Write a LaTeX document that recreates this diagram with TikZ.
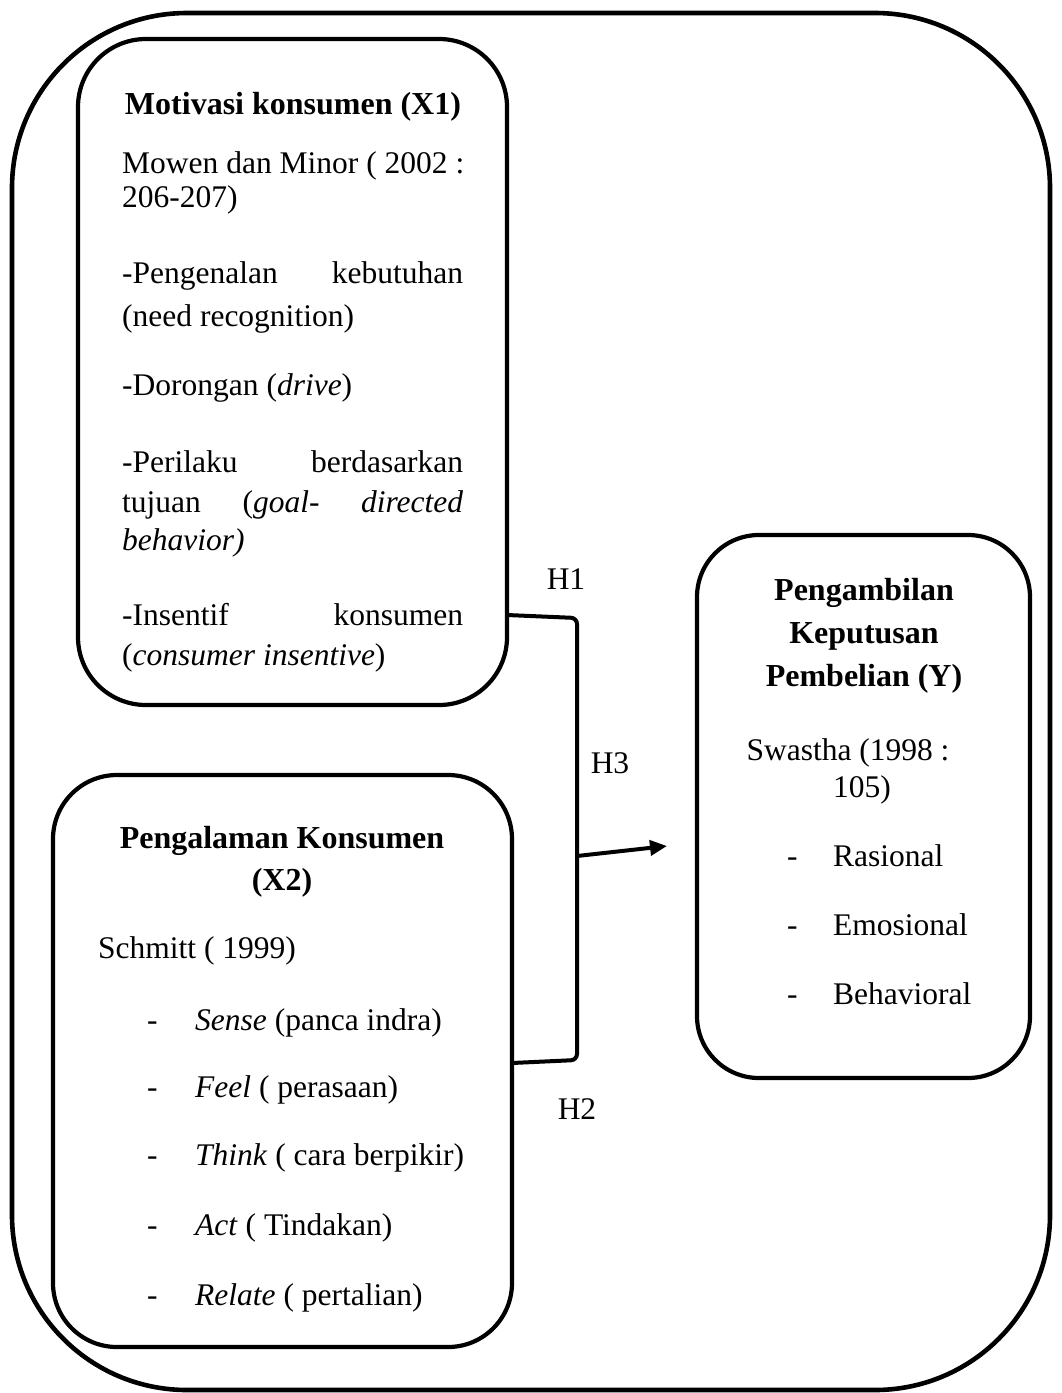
\documentclass[tikz,border=0pt]{standalone}
\usepackage{fontspec}
\setmainfont{Liberation Serif}
\usetikzlibrary{arrows.meta}
\tikzset{
  box/.style={draw, line width=4.2pt, rounded corners=68pt, inner sep=0pt, outer sep=0pt},
  outerbox/.style={draw, line width=4.6pt, rounded corners=175pt, inner sep=0pt, outer sep=0pt},
  txt/.style={anchor=base west, inner sep=0pt, font=\fontsize{31.5}{38}\selectfont},
  ctxt/.style={anchor=base, inner sep=0pt, font=\fontsize{31.5}{38}\selectfont},
  btxt/.style={anchor=base, inner sep=0pt, font=\fontsize{32}{38}\selectfont\bfseries},
  conn/.style={line width=4pt, rounded corners=6pt},
  arr/.style={line width=4pt, -{Triangle[length=17pt,width=15pt]}}
}
\begin{document}
\begin{tikzpicture}[x=1pt,y=-1pt]
\useasboundingbox (0,0) rectangle (1061,1393);
% boxes
\node[outerbox, minimum width=1038pt, minimum height=1377pt] (outer) at (531,701.5) {};
\node[box, minimum width=429pt, minimum height=666pt] (x1) at (292.5,372) {};
\node[box, minimum width=459pt, minimum height=572pt, rounded corners=64pt] (x2) at (282.5,1061) {};
\node[box, minimum width=333pt, minimum height=543pt, rounded corners=62pt] (y) at (863.5,806.5) {};
% box X1 text
\node[btxt] (t1) at (293,114) {Motivasi konsumen (X1)};
\node[txt] (t2) at (122,173) {Mowen dan Minor ( 2002 :};
\node[txt] (t3) at (122,207) {206-207)};
\node[txt] (t4) at (122,283) {\makebox[341pt][s]{-Pengenalan kebutuhan}};
\node[txt] (t5) at (122,326) {(need recognition)};
\node[txt] (t6) at (122,395) {-Dorongan (\textit{drive})};
\node[txt] (t7) at (122,472) {\makebox[341pt][s]{-Perilaku berdasarkan}};
\node[txt] (t8) at (122,512) {\makebox[341pt][s]{tujuan (\textit{goal-} \textit{directed}}};
\node[txt] (t9) at (122,550) {\textit{behavior)}};
\node[txt] (t10) at (122,625) {\makebox[341pt][s]{-Insentif konsumen}};
\node[txt] (t11) at (122,665) {(\textit{consumer insentive})};
% box X2 text
\node[btxt] (u1) at (282,848) {Pengalaman Konsumen};
\node[btxt] (u2) at (282,890) {(X2)};
\node[txt] (u3) at (98,958) {Schmitt ( 1999)};
\foreach \yy/\tt [count=\i] in {1030/{\textit{Sense} (panca indra)},1097/{\textit{Feel} ( perasaan)},1165/{\textit{Think} ( cara berpikir)},1235/{\textit{Act} ( Tindakan)},1305/{\textit{Relate} ( pertalian)}}{
  \node[txt] (ud\i) at (147,\yy) {-};
  \node[txt] (ui\i) at (195,\yy) {\tt};
}
% box Y text
\node[btxt] (v1) at (864,600) {Pengambilan};
\node[btxt] (v2) at (864,643) {Keputusan};
\node[btxt] (v3) at (864,686) {Pembelian (Y)};
\node[ctxt] (v4) at (848,760) {Swastha (1998 :};
\node[ctxt] (v5) at (862,797) {105)};
\foreach \yy/\tt [count=\i] in {866/Rasional,935/Emosional,1004/Behavioral}{
  \node[txt] (vd\i) at (787,\yy) {-};
  \node[txt] (vi\i) at (833,\yy) {\tt};
}
% hypotheses labels
\node[ctxt] (h1) at (566,589) {H1};
\node[ctxt] (h3) at (610,773) {H3};
\node[ctxt] (h2) at (577,1119) {H2};
% connectors
\coordinate (b1) at (577,618);
\coordinate (b2) at (577,1060);
\coordinate (bm) at (577,856);
\coordinate (tip) at (667,846);
\draw[conn] (x1.east |- 0,615) -- (b1) -- (b2) -- (x2.east |- 0,1063);
\draw[arr] (bm) -- (tip);
\end{tikzpicture}
\end{document}
